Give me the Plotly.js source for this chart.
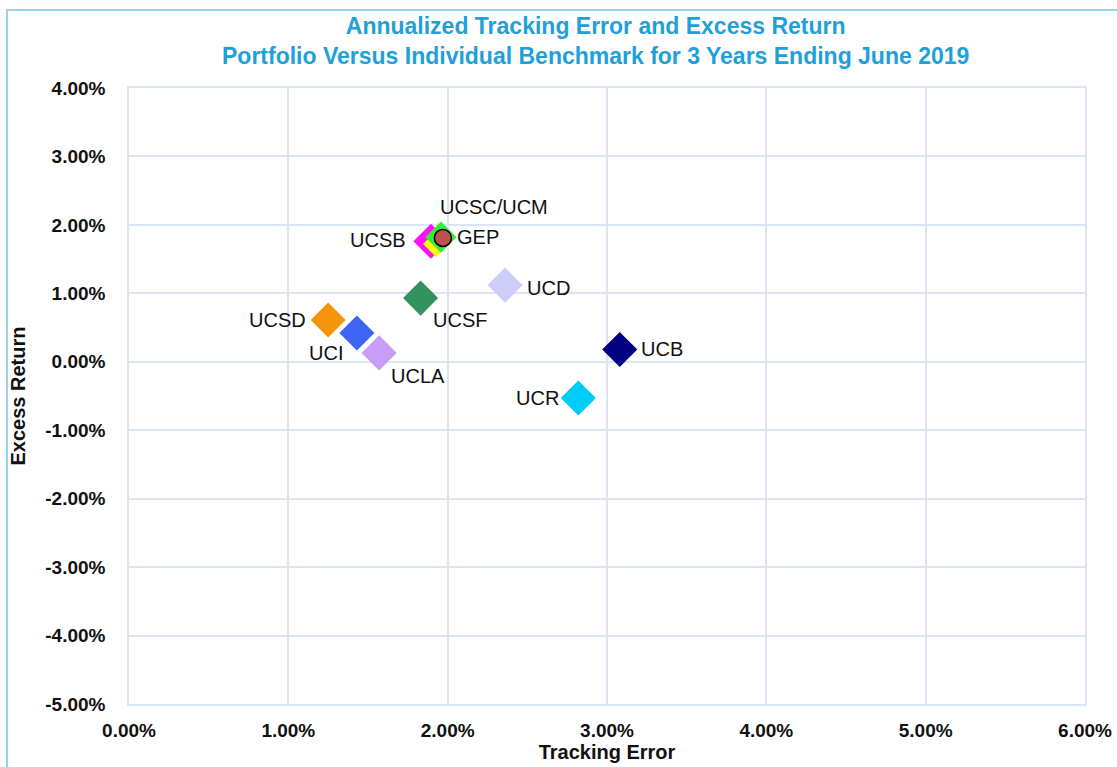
<!DOCTYPE html>
<html>
<head>
<meta charset="utf-8">
<script src="https://cdn.plot.ly/plotly-3.0.1.min.js"></script>
<style>
  html, body { margin: 0; padding: 0; background: #fff; }
  #frame { position: absolute; left: 6px; top: 9px; width: 1111px; height: 758px;
           border-left: 2px solid #9cd2e4; border-top: 2px solid #9cd2e4; }
  #chart { position: absolute; left: 0; top: 0; width: 1117px; height: 767px; }
</style>
</head>
<body>
<div id="frame"></div>
<div id="chart"></div>
<script>
// Data (percent)
const names = ["UCSD", "UCI", "UCLA", "UCSF", "UCSB", "UCSC", "UCM", "UCD", "UCB", "UCR", "GEP"];
const trackingError = [1.25, 1.43, 1.57, 1.83, 1.895, 1.927, 1.958, 2.36, 3.08, 2.82, 1.97];
const excessReturn = [0.61, 0.42, 0.13, 0.93, 1.76, 1.72, 1.82, 1.12, 0.18, -0.53, 1.81];
const labelText = ["UCSD", "UCI", "UCLA", "UCSF", "UCSB", "", "UCSC/UCM", "UCD", "UCB", "UCR", "GEP"];

const yTickVals = [-5, -4, -3, -2, -1, 0, 1, 2, 3, 4];
const yTickText = ["-5.00%", "-4.00%", "-3.00%", "-2.00%", "-1.00%", "0.00%", "1.00%", "2.00%", "3.00%", "4.00%"];
const xTickVals = [0, 1, 2, 3, 4, 5, 6];
const xTickText = ["0.00%", "1.00%", "2.00%", "3.00%", "4.00%", "5.00%", "6.00%"];

const titleText = "<b>Annualized Tracking Error and Excess Return<br>Portfolio Versus Individual Benchmark for 3 Years Ending June 2019</b>";

// Styles
const colors = {
  UCSD: "#f7940f", UCI: "#3d66f5", UCLA: "#c99cf7", UCSF: "#33935f", UCSB: "#ff0ff5",
  UCSC: "#ffff00", UCM: "#33ee33", UCD: "#cdcdfa", UCB: "#000080", UCR: "#00ccf5", GEP: "#c0504d"
};
const markerSize = { UCSC: 20, UCM: 24 };
const labelShift = {
  UCSD: [-51, 0], UCI: [-31, -20], UCLA: [39, -23], UCSF: [39, -22], UCSB: [-53, 1],
  "UCSC/UCM": [53, 30], UCD: [43, -3], UCB: [42, 0], UCR: [-41, 0], GEP: [35, 1]
};

const traces = names.map((n, i) => ({
  type: "scatter",
  mode: "markers",
  x: [trackingError[i]],
  y: [excessReturn[i]],
  name: n,
  hoverinfo: "x+y+name",
  marker: n === "GEP"
    ? { symbol: "circle", size: 17, color: colors[n], line: { color: "#000", width: 1.5 } }
    : { symbol: "diamond", size: markerSize[n] || 27, color: colors[n], line: { width: 0 } }
}));

const labelFont = { family: "Liberation Sans, Arial, sans-serif", size: 20, color: "#111" };
const annotations = [];
names.forEach((n, i) => {
  const t = labelText[i];
  if (!t) return;
  const s = labelShift[t];
  annotations.push({
    x: trackingError[i], y: excessReturn[i], xref: "x", yref: "y",
    text: t, showarrow: false, xshift: s[0], yshift: s[1], font: labelFont
  });
});
annotations.push({
  x: 0.4875, xref: "paper", xanchor: "center",
  y: 1.076, yref: "paper", yanchor: "middle",
  text: titleText, showarrow: false,
  font: { family: "Liberation Sans Narrow, Arial Narrow, Liberation Sans, sans-serif", size: 23, color: "#1fa0d8" }
});

const tickFont = { family: "Liberation Sans, Arial, sans-serif", size: 19, color: "#111", weight: "bold" };
const titleFont = { family: "Liberation Sans, Arial, sans-serif", size: 20, color: "#111", weight: "bold" };

const layout = {
  width: 1117, height: 767,
  paper_bgcolor: "rgba(0,0,0,0)",
  plot_bgcolor: "#fff",
  margin: { l: 129, r: 32, t: 88, b: 63 },
  showlegend: false,
  xaxis: {
    range: [0, 6], tickvals: xTickVals, ticktext: xTickText,
    showgrid: true, gridcolor: "#dce6f2", gridwidth: 1.5,
    zeroline: false, showline: true, linecolor: "#dce6f2", linewidth: 1.5, mirror: true,
    ticks: "", ticklabelstandoff: 8, tickfont: tickFont,
    title: { text: "<b>Tracking Error</b>", font: titleFont, standoff: 4 }
  },
  yaxis: {
    range: [-5, 4], tickvals: yTickVals, ticktext: yTickText,
    showgrid: true, gridcolor: "#dce6f2", gridwidth: 1.5,
    zeroline: false, showline: true, linecolor: "#dce6f2", linewidth: 1.5, mirror: true,
    ticks: "", ticklabelstandoff: 18, tickfont: tickFont,
    title: { text: "<b>Excess Return</b>", font: titleFont, standoff: 14 }
  },
  annotations: annotations
};

Plotly.newPlot("chart", traces, layout, { displayModeBar: false, responsive: false });
</script>
</body>
</html>
